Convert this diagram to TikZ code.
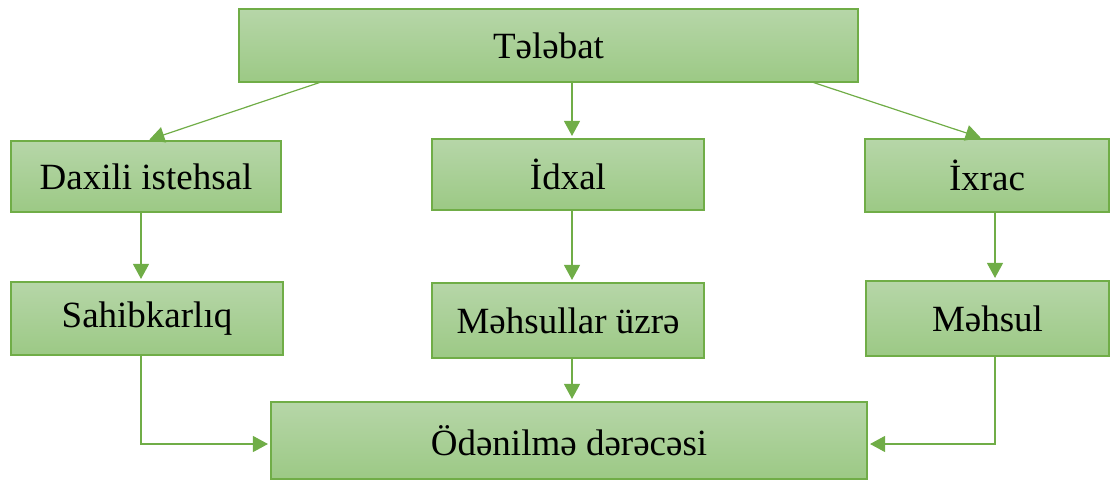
\documentclass[tikz,border=0pt]{standalone}
\usepackage{fontspec}
\setmainfont{Liberation Serif}
\usetikzlibrary{arrows.meta}
\definecolor{gline}{RGB}{112,173,71}
\definecolor{gtop}{RGB}{182,214,168}
\definecolor{gbot}{RGB}{156,201,133}
\tikzset{
  box/.style={draw=gline, line width=1.1pt, top color=gtop, bottom color=gbot,
    shading angle=0, inner sep=0pt, font=\fontsize{37}{42}\selectfont},
  conn/.style={draw=gline, line width=1.2pt, shorten >=2.5pt, -{Triangle[length=15pt,width=16pt]}}
}
\begin{document}
\begin{tikzpicture}[x=1pt,y=-1pt]
\useasboundingbox (0,0) rectangle (1116,482);
\node[box, minimum width=619pt, minimum height=73pt] (tel) at (548.5,45.5) {Tələbat};
\node[box, minimum width=270pt, minimum height=71pt] (dax) at (146,176.5) {Daxili istehsal};
\node[box, minimum width=272pt, minimum height=71pt] (idx) at (568,174.5) {İdxal};
\node[box, minimum width=244pt, minimum height=73pt] (ixr) at (987,175.5) {İxrac};
\node[box, minimum width=272pt, minimum height=73pt] (sah) at (147,318.5) {Sahibkarlıq};
\node[box, minimum width=272pt, minimum height=75pt] (mus) at (568,320.5) {Məhsullar üzrə};
\node[box, minimum width=243pt, minimum height=75pt] (mhs) at (987.5,318.5) {Məhsul};
\node[box, minimum width=596pt, minimum height=77pt] (ode) at (569,440.5) {Ödənilmə dərəcəsi};

\draw[conn] ([xshift=81pt]tel.south west) -- ([xshift=1pt]dax.north);
\draw[conn] ([xshift=23.5pt]tel.south) -- ([xshift=4pt]idx.north);
\draw[conn] ([xshift=-45pt]tel.south east) -- ([xshift=-4pt]ixr.north);
\draw[conn] ([xshift=-5pt]dax.south) -- ([xshift=-6pt]sah.north);
\draw[conn] ([xshift=4pt]idx.south) -- ([xshift=4pt]mus.north);
\draw[conn] ([xshift=8pt]ixr.south) -- ([xshift=7.5pt]mhs.north);
\draw[conn] ([xshift=4pt]mus.south) -- ([xshift=3pt]ode.north);
\draw[conn] ([xshift=-6pt]sah.south) |- ([yshift=-3.5pt]ode.west);
\draw[conn] ([xshift=7.5pt]mhs.south) |- ([yshift=-3.5pt]ode.east);
\end{tikzpicture}
\end{document}
